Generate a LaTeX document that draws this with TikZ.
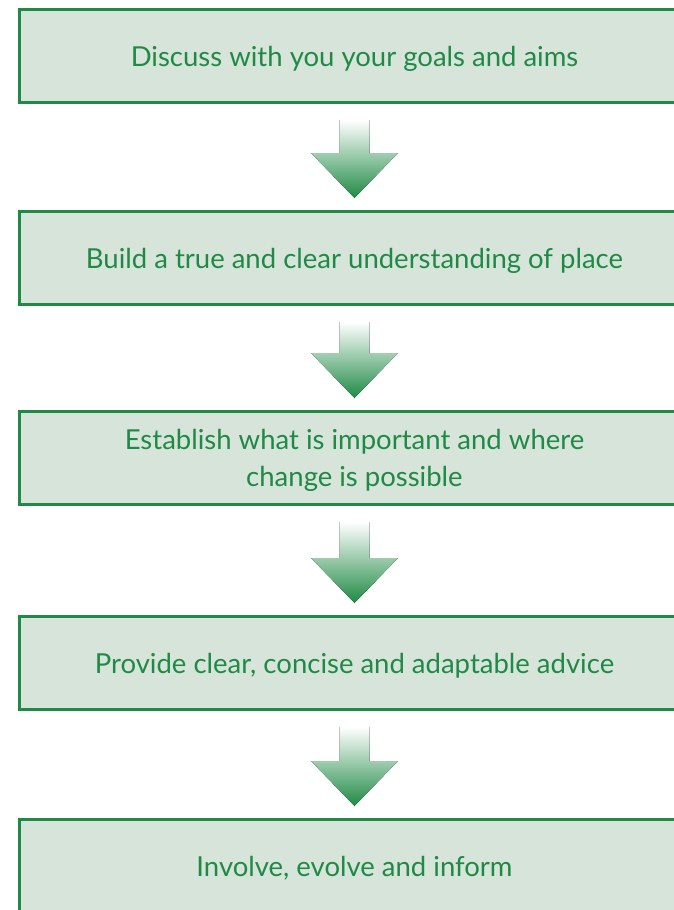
\documentclass[tikz,border=0pt]{standalone}
\usepackage{fontspec}
\setmainfont{Lato}
\usepackage{tikz}
\usetikzlibrary{positioning,calc}

\definecolor{stagegreen}{HTML}{1F8A45}
\definecolor{stagefill}{HTML}{D7E4D9}

\tikzset{
	stage/.style={draw=stagegreen, line width=3pt, fill=stagefill, text=stagegreen,
		minimum width=671pt, minimum height=93pt, inner sep=0pt, align=center,
		text depth=0pt, font=\fontsize{27.5}{37}\selectfont},
	flowarrow/.style={top color=white, bottom color=stagegreen, draw=none}
}

\begin{document}
\begin{tikzpicture}[x=1pt, y=1pt, node distance=106pt]
				\useasboundingbox (0,0) rectangle (674,-910);
				\node[stage] (goals) at (354.5,-56) {Discuss with you your goals and aims};
				\node[stage, below=of goals] (place) {Build a true and clear understanding of place};
				\node[stage, below=104pt of place] (important) {Establish what is important and where\\change is possible};
				\node[stage, below=109pt of important] (advice) {Provide clear, concise and adaptable advice};
				\node[stage, below=107pt of advice] (inform) {Involve, evolve and inform};
				% block arrows between the stages
				\foreach \a/\b in {goals/place, place/important, important/advice, advice/inform}
					\fill[flowarrow]
					($(\a.south)+(-15,-16)$) -- ($(\a.south)+(15,-16)$)
					-- ($(\b.north)+(15,57)$) -- ($(\b.north)+(43.5,57)$)
					-- ($(\b.north)+(0,12)$)
					-- ($(\b.north)+(-43.5,57)$) -- ($(\b.north)+(-15,57)$) -- cycle;
			\end{tikzpicture}
\end{document}
